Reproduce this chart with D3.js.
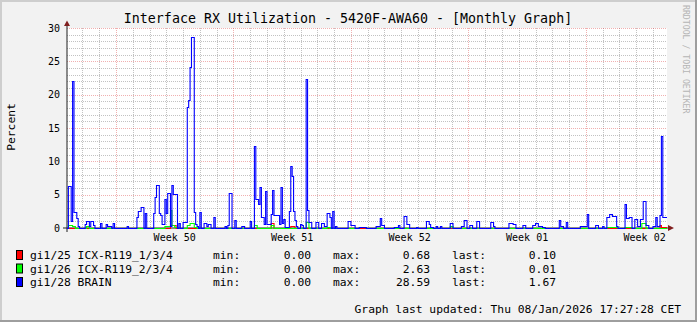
<!DOCTYPE html>
<html lang="en">
<head>
<meta charset="UTF-8">
<title>Interface RX Utilization</title>
<style>
  body { margin: 0; background: #fff; }
  text { font-family: "DejaVu Sans Mono", monospace; }
</style>
</head>
<body>
<svg width="697" height="322" id="svg"></svg>
<script src="https://d3js.org/d3.v7.min.js"></script>
<script>
// 2 hour buckets, first one starts Thu 04/Dec/2025 02:00
var startTime = Date.UTC(2025, 11, 4, 2)
var stepMs = 2 * 3600 * 1000
var slotCount = 429

// [bucket, value] -> value holds until the next entry
var redSteps = [[0, 0], [74, 0.4], [78, 0], [146, 0.68], [148, 0], [160, 0.3], [163, 0], [424, 0.4], [425, 0.1]]

var greenSteps = [[0, 0], [1, 0.4], [4, 0.3], [6, 0], [14, 0.3], [16, 0],
    [70, 0.3], [74, 2.63], [75, 0.4], [77, 0.2], [79, 0],
    [86, 0.5], [88, 0.8], [91, 0.2], [93, 0],
    [134, 0.4], [136, 0], [146, 0.5], [148, 0], [171, 0.95], [173, 0],
    [186, 0.2], [188, 0], [209, 0.2], [214, 0], [274, 0.3], [276, 0],
    [386, 0.2], [394, 0], [399, 0.2], [404, 0], [411, 0.7], [414, 0], [426, 0.01]]

var blueSteps = [[0, 0], [1, 6.3], [3, 1.0], [4, 22.0], [5, 2.4], [7, 1.5], [8, 0.3], [9, 0],
    [13, 0.6], [14, 1.0], [16, 0.3], [17, 1.0], [19, 0.5], [20, 0],
    [24, 0.7], [25, 0], [28, 0.6], [29, 0.3], [32, 0], [33, 0.7], [34, 0],
    [43, 0.3], [44, 0],
    [50, 1.7], [51, 2.5], [53, 3.2], [55, 0], [56, 2.2], [57, 0],
    [62, 2.2], [63, 4.7], [64, 6.45], [66, 2.3], [67, 1.9], [68, 0.6], [70, 4.3], [71, 2.2], [72, 5.3],
    [74, 0.3], [75, 6.45], [76, 5.05], [79, 0], [80, 0.7], [81, 0],
    [83, 0.9], [86, 18.2], [87, 19.2], [88, 24.1], [89, 28.59], [91, 2.35], [92, 0.6], [93, 0.3], [94, 0],
    [95, 2.4], [96, 0], [98, 0.8], [100, 0.3], [101, 0.6], [103, 0],
    [105, 1.6], [106, 0],
    [113, 0.3], [114, 0], [115, 0.5], [116, 5.2], [118, 0], [120, 1.2], [121, 0],
    [125, 0.3], [127, 0],
    [131, 1.1], [132, 0], [134, 12.35], [135, 4.35], [137, 3.6], [138, 6.1], [139, 1.6], [141, 0.6],
    [142, 5.6], [143, 0.6], [146, 2.1], [147, 5.7], [148, 1.9], [152, 0.6], [153, 6.1], [154, 0.8],
    [155, 1.4], [156, 0.2], [159, 2.6], [160, 9.35], [161, 7.85], [162, 2.5], [163, 1.2], [164, 0.3],
    [165, 0], [167, 0.6], [168, 0.5], [169, 0],
    [171, 22.35], [172, 2.7], [173, 0.95], [175, 0],
    [178, 0.95], [180, 0], [182, 0.7], [184, 0.3], [186, 2.2], [188, 1.7], [189, 0], [190, 2.55], [191, 0],
    [192, 0.3], [193, 0],
    [201, 1.05], [203, 0.4], [206, 0], [209, 0.2], [214, 0],
    [221, 0.3], [224, 1.45], [225, 0.45], [227, 0],
    [234, 0.2], [237, 0.45], [238, 0], [241, 1.8], [243, 0.6], [245, 0], [250, 0.2], [251, 0],
    [257, 1.05], [259, 0.6], [260, 0.2], [262, 0], [264, 0.3], [265, 0], [267, 0.3], [268, 0],
    [274, 0.8], [276, 0], [282, 0.3], [284, 1.2], [286, 0], [288, 0.45], [290, 0],
    [293, 1.05], [295, 0], [303, 0.95], [305, 0.3], [306, 0],
    [316, 0.8], [318, 0.7], [319, 0.6], [321, 0], [326, 0.4], [328, 0],
    [333, 0.45], [335, 0.8], [337, 0.35], [340, 0.2], [342, 0],
    [352, 1.2], [353, 0.3], [355, 0], [357, 0.9], [358, 0],
    [367, 0.3], [372, 2.05], [373, 0], [378, 0.45], [380, 0], [383, 0.3], [384, 0],
    [386, 1.6], [388, 2.05], [390, 1.8], [393, 0.3], [394, 0],
    [399, 3.55], [400, 1.5], [402, 1.6], [404, 0],
    [406, 1.35], [408, 0.3], [410, 1.4], [412, 4.05], [414, 0.4], [416, 0],
    [419, 0.3], [421, 1.6], [422, 0.3], [424, 2.0], [425, 13.85], [426, 1.67]]

var seriesNames = ["gi1/25 ICX-R119_1/3/4", "gi1/26 ICX-R119_2/3/4", "gi1/28 BRAIN"]
var seriesColors = ["#ff0000", "#00ff00", "#0000ff"]
var seriesMin = [0.00, 0.00, 0.00]
var seriesMax = [0.68, 2.63, 28.59]
var seriesLast = [0.10, 0.01, 1.67]

var yTicks = [0, 5, 10, 15, 20, 25, 30]
var weekLabels = ["Week 50", "Week 51", "Week 52", "Week 01", "Week 02"]

var title = "Interface RX Utilization - 5420F-AWA60 - [Monthly Graph]"
var updated = "Graph last updated: Thu 08/Jan/2026 17:27:28 CET"

var svg = d3.select("svg")
var W = 697, H = 322

var start = new Date(startTime)
var end = new Date(startTime + slotCount * stepMs)

var x = d3.scaleTime().domain([start, end]).range([67, 667])
var y = d3.scaleLinear().domain([0, 30]).range([228, 28])

// background + shaded frame
svg.append("rect").attr("width", W).attr("height", H).attr("fill", "#f2f2f2")
svg.append("path").attr("d", "M0,0H697V2H0Z M0,0H2V322H0Z").attr("fill", "#cecece")
svg.append("path").attr("d", "M0,320H697V322H0Z M695,0H697V322H695Z").attr("fill", "#9e9e9e")

svg.append("rect").attr("x", 67).attr("y", 28).attr("width", 600).attr("height", 200).attr("fill", "#fff")

var grid = svg.append("g").attr("fill", "none").attr("stroke-width", 1).attr("stroke-dasharray", "1,1")

// minor grid
var days = d3.utcDay.range(start, end).filter(function (d) { return d.getUTCDay() != 0 })
grid.selectAll(".vmin").data(days).enter().append("line")
    .attr("x1", function (d) { return Math.round(x(d)) + 0.5 })
    .attr("x2", function (d) { return Math.round(x(d)) + 0.5 })
    .attr("y1", 28).attr("y2", 228)
    .attr("stroke", "rgba(143,143,143,0.55)")
var minorY = d3.range(1, 30).filter(function (v) { return v % 5 != 0 })
grid.selectAll(".hmin").data(minorY).enter().append("line")
    .attr("x1", 67).attr("x2", 667)
    .attr("y1", function (d) { return Math.round(y(d)) + 0.5 })
    .attr("y2", function (d) { return Math.round(y(d)) + 0.5 })
    .attr("stroke", "rgba(143,143,143,0.55)")

// major grid
var sundays = d3.utcSunday.range(start, end)
grid.selectAll(".vmaj").data(sundays).enter().append("line")
    .attr("x1", function (d) { return Math.round(x(d)) + 0.5 })
    .attr("x2", function (d) { return Math.round(x(d)) + 0.5 })
    .attr("y1", 28).attr("y2", 228)
    .attr("stroke", "rgba(222,79,79,0.45)")
grid.selectAll(".hmaj").data(yTicks.slice(1)).enter().append("line")
    .attr("x1", 67).attr("x2", 667)
    .attr("y1", function (d) { return Math.round(y(d)) + 0.5 })
    .attr("y2", function (d) { return Math.round(y(d)) + 0.5 })
    .attr("stroke", "rgba(222,79,79,0.45)")

// y tick labels
svg.selectAll(".ylab").data(yTicks).enter().append("text")
    .attr("x", 60).attr("y", function (d) { return y(d) + 3.5 })
    .attr("text-anchor", "end").attr("font-size", "10px")
    .text(function (d) { return d })

// week labels, centred in the middle of each week
svg.selectAll(".xlab").data(sundays).enter().append("text")
    .attr("x", function (d) { return x(d3.utcHour.offset(d, 84)) })
    .attr("y", 241)
    .attr("text-anchor", "middle").attr("font-size", "10px")
    .text(function (d, i) { return weekLabels[i] })

// data lines
function expand(steps) {
    var pts = steps.map(function (s) { return { t: new Date(startTime + s[0] * stepMs), v: s[1] } })
    pts.push({ t: end, v: steps[steps.length - 1][1] })
    return pts
}
var line = d3.line().curve(d3.curveStepAfter)
    .x(function (d) { return x(d.t) })
    .y(function (d) { return Math.round(y(d.v)) + 0.5 })

// axes
svg.append("line").attr("x1", 63).attr("x2", 670).attr("y1", 228).attr("y2", 228)
    .attr("stroke", "#1f1f1f").attr("stroke-width", 1)
svg.append("line").attr("x1", 67).attr("x2", 67).attr("y1", 232).attr("y2", 24)
    .attr("stroke", "#1f1f1f").attr("stroke-width", 1)

var all = [redSteps, greenSteps, blueSteps]
all.forEach(function (s, i) {
    svg.append("path").datum(expand(s))
        .attr("d", line)
        .attr("fill", "none")
        .attr("stroke", seriesColors[i])
        .attr("stroke-width", 1.1)
})

svg.append("path").attr("d", "M64,26L67,20.5L70,26Z").attr("fill", "#801f1f")
svg.append("path").attr("d", "M668,225L674,228L668,231Z").attr("fill", "#801f1f")

// title
svg.append("text").attr("x", 348).attr("y", 23).attr("text-anchor", "middle")
    .attr("font-size", "13.3px").text(title)

// y label
svg.append("text").attr("transform", "translate(15," + 127 + ") rotate(-90)")
    .attr("text-anchor", "middle").attr("font-size", "11.3px").text("Percent")

// watermark
svg.append("text").attr("transform", "translate(683,5) rotate(90)")
    .attr("font-size", "8.2px").attr("fill", "#b5b5b5").text("RRDTOOL / TOBI OETIKER")

// legend
var rows = [255, 268.5, 282]
var leg = svg.append("g").attr("font-size", "11.3px")
seriesNames.forEach(function (n, i) {
    var cy = rows[i]
    leg.append("rect").attr("x", 16.5).attr("y", cy - 4.5).attr("width", 6).attr("height", 9)
        .attr("fill", seriesColors[i]).attr("stroke", "#000").attr("stroke-width", 1)
    leg.append("text").attr("x", 30).attr("y", cy + 4).text(n)
    leg.append("text").attr("x", 213).attr("y", cy + 4).text("min:")
    leg.append("text").attr("x", 311).attr("y", cy + 4).attr("text-anchor", "end").text(seriesMin[i].toFixed(2))
    leg.append("text").attr("x", 333).attr("y", cy + 4).text("max:")
    leg.append("text").attr("x", 430).attr("y", cy + 4).attr("text-anchor", "end").text(seriesMax[i].toFixed(2))
    leg.append("text").attr("x", 452).attr("y", cy + 4).text("last:")
    leg.append("text").attr("x", 556).attr("y", cy + 4).attr("text-anchor", "end").text(seriesLast[i].toFixed(2))
})
leg.append("text").attr("x", 681).attr("y", 313).attr("text-anchor", "end").text(updated)
</script>
</body>
</html>
